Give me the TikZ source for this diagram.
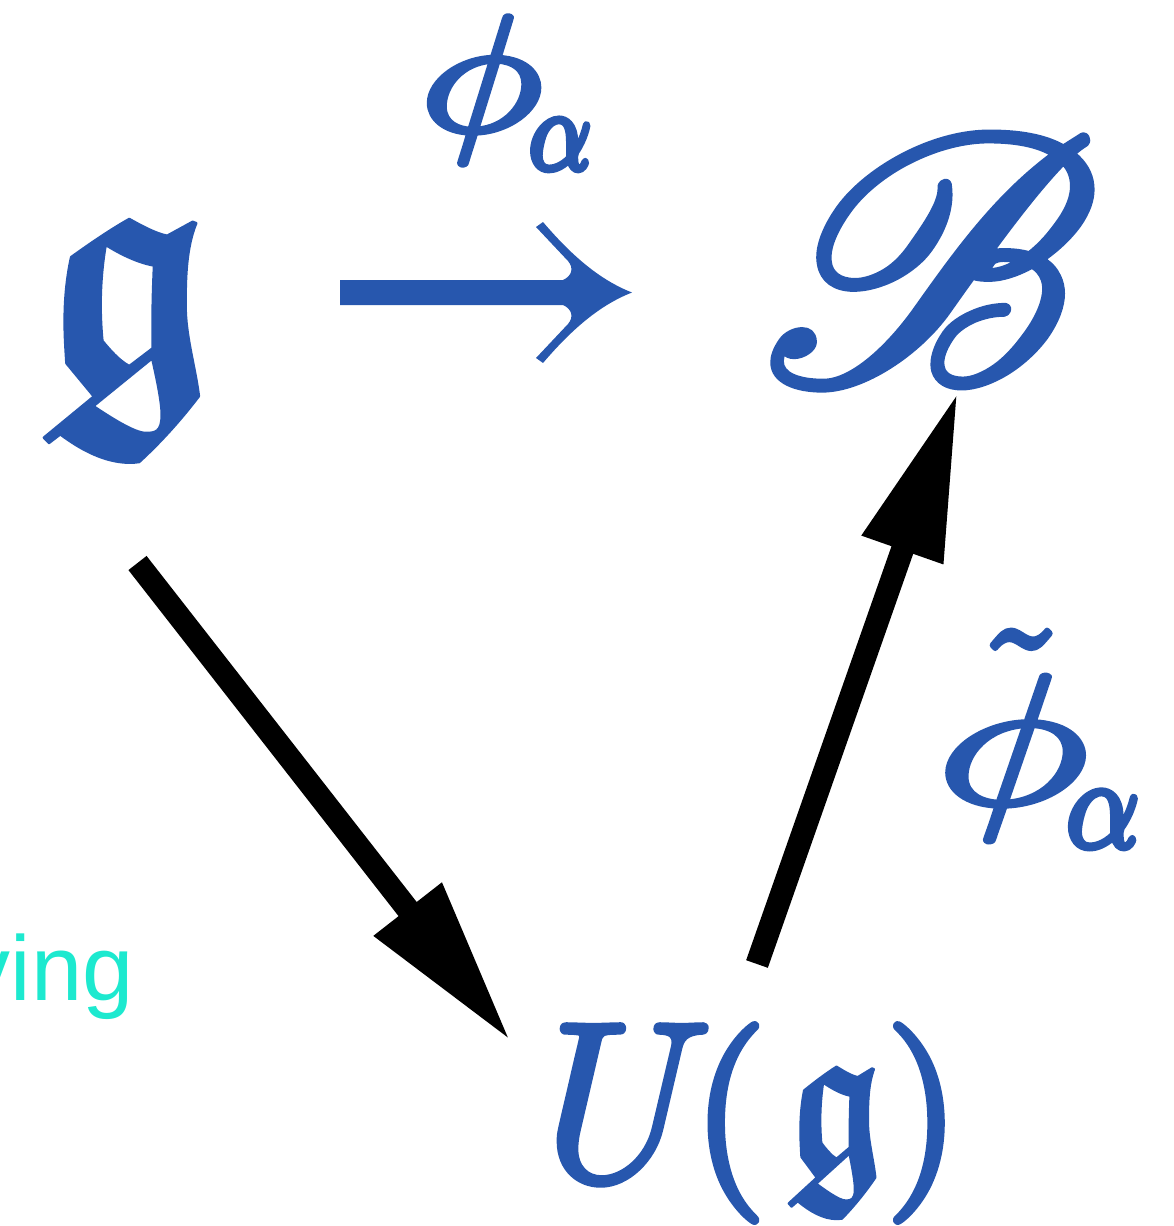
\documentclass[tikz,border=0pt]{standalone}
\usepackage{amsmath,amssymb,bm,mathrsfs}
\usepackage{fontspec}
\newfontfamily\labelsans{Liberation Sans}
\usetikzlibrary{arrows.meta}
\definecolor{diagblue}{RGB}{39,87,174}
\definecolor{diagcyan}{RGB}{29,233,207}
% heavier glyphs: fill and stroke the outline
\newcommand\heavy[2]{\special{pdf:literal direct 2 Tr #1 w 1 j}#2\special{pdf:literal direct 0 Tr}}
\tikzset{
  sym/.style={inner sep=0pt, outer sep=0pt, text=diagblue},
  bigarrow/.style={line width=11.5pt, draw=black, -{Triangle[length=84pt,width=40pt]}},
}
\begin{document}
\begin{tikzpicture}[x=0.5pt,y=-0.5pt]
\useasboundingbox (0,0) rectangle (1173,1226);
% top row
\node[sym] (g) at (127,337) {\scalebox{14.8}[17.9]{\heavy{0.07}{$\boldsymbol{\mathfrak{g}}$}}};
\node[sym] (B) at (930,260) {\scalebox{17.8}{\heavy{0.17}{$\mathscr{B}$}}};
% the arrow between g and B
\coordinate (ar0) at (340,280);
\fill[diagblue] (ar0) -- (563,280) .. controls (572,276) and (574,268) .. (568,261)
  -- (536,227) -- (543,222) .. controls (572,256) and (600,280) .. (632,292.5)
  .. controls (600,305) and (572,329) .. (543,363) -- (536,358) -- (568,324)
  .. controls (574,317) and (572,309) .. (563,305) -- (340,305) -- cycle;
% labels
\node[sym, anchor=base west] (phi) at (420,131)
  {\scalebox{10.3}[8.3]{\heavy{0.32}{$\phi$}}\kern-7pt\raisebox{-19pt}{\scalebox{4.9}[5.7]{\heavy{0.55}{$\alpha$}}}};
\node[sym, anchor=base west] (tphi) at (936,804)
  {\rlap{\kern17pt\scalebox{8.6}[9.3]{\heavy{0.33}{$\tilde{\phantom{\phi}}$}}}\scalebox{12.8}[9.3]{\heavy{0.26}{$\phi$}}\kern-11.3pt\raisebox{-21.5pt}{\scalebox{5.75}[6.4]{\heavy{0.48}{$\alpha$}}}};
\node[sym, anchor=base west] (U) at (545,1180)
  {\scalebox{10.6}[11.35]{\heavy{0.24}{$U$}}\kern-11pt\raisebox{3.75pt}{\scalebox{9.9}{\heavy{0.3}{$($}}\kern9pt\scalebox{8.3}[11.2]{\heavy{0.1}{$\boldsymbol{\mathfrak{g}}$}}\kern0pt\scalebox{9.9}{\heavy{0.3}{$)$}}}};
\node[inner sep=0pt, anchor=base east, text=diagcyan] (cap) at (134,1000) {\fontsize{46}{50}\selectfont\labelsans ving};
% arrows
\coordinate (a1s) at (137.5,563);
\coordinate (a1e) at (511,1041.5);
\coordinate (a2s) at (757,964);
\coordinate (a2e) at (958,391.5);
\draw[bigarrow] (a1s) -- (a1e);
\draw[bigarrow] (a2s) -- (a2e);
\end{tikzpicture}
\end{document}
